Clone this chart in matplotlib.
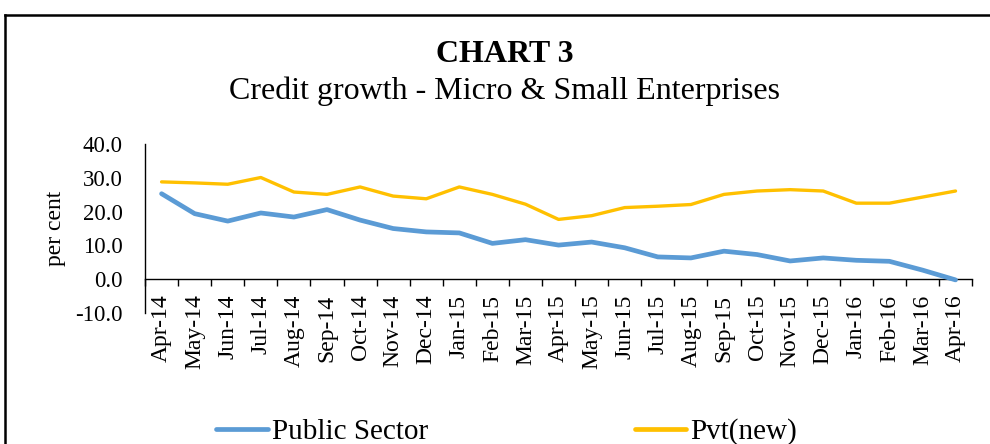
import numpy as np
import matplotlib
matplotlib.use("Agg")
import matplotlib.pyplot as plt
from matplotlib.lines import Line2D

plt.rcParams['font.family'] = ['Liberation Serif', 'DejaVu Serif']

months = ['Apr-14', 'May-14', 'Jun-14', 'Jul-14', 'Aug-14', 'Sep-14', 'Oct-14', 'Nov-14',
          'Dec-14', 'Jan-15', 'Feb-15', 'Mar-15', 'Apr-15', 'May-15', 'Jun-15', 'Jul-15',
          'Aug-15', 'Sep-15', 'Oct-15', 'Nov-15', 'Dec-15', 'Jan-16', 'Feb-16', 'Mar-16', 'Apr-16']
public_sector = [25.3, 19.4, 17.2, 19.6, 18.4, 20.6, 17.5, 15.0, 14.0, 13.7, 10.6, 11.7, 10.1,
                 11.0, 9.3, 6.6, 6.3, 8.3, 7.3, 5.4, 6.3, 5.6, 5.3, 2.7, -0.2]
pvt_new = [28.8, 28.5, 28.1, 30.1, 25.8, 25.1, 27.3, 24.6, 23.8, 27.3, 25.1, 22.2, 17.7,
           18.8, 21.2, 21.6, 22.1, 25.1, 26.1, 26.5, 26.1, 22.5, 22.5, 24.3, 26.1]
y_ticks = [-10, 0, 10, 20, 30, 40]

fig = plt.figure(figsize=(9.9, 4.44), dpi=100)
ax = fig.add_axes([0.1465, 0.295, 0.8354, 0.3806])

# spine position first, it resets the ticks
ax.spines['top'].set_visible(False)
ax.spines['right'].set_visible(False)
ax.spines['bottom'].set_position(('data', 0))
ax.spines['left'].set_linewidth(1)
ax.spines['bottom'].set_linewidth(1)

x = np.arange(len(months))
ax.plot(x, public_sector, color='#5B9BD5', lw=3.4, solid_capstyle='round',
        solid_joinstyle='round', label='Public Sector', zorder=3)
ax.plot(x, pvt_new, color='#FFC000', lw=2.4, solid_capstyle='round',
        solid_joinstyle='round', label='Pvt(new)', zorder=3)

ax.set_xlim(-0.5, len(months) - 0.5)
ax.set_ylim(-10, 40)
ax.set_yticks(y_ticks)
ax.set_yticklabels([f"{v:.1f}" for v in y_ticks])
ax.tick_params(axis='y', length=0, pad=16, labelsize=16.5)

ax.set_xticks(x)
ax.set_xticklabels(months)
ax.set_xticks(np.arange(-0.5, len(months)), minor=True)
ax.tick_params(axis='x', which='major', length=0, pad=11, labelsize=17, labelrotation=90)
ax.tick_params(axis='x', which='minor', length=5, width=1, direction='out')

fig.text(56 / 990, 1 - 228 / 444, 'per cent', rotation=90, fontsize=17,
         ha='center', va='center')

fig.text(0.510, 0.860, 'CHART 3', fontsize=23, fontweight='bold', ha='center', va='baseline')
fig.text(0.510, 0.777, 'Credit growth - Micro & Small Enterprises', fontsize=23,
         ha='center', va='baseline')

leg = fig.legend(loc='center', bbox_to_anchor=(0.512, 0.027), ncol=2, frameon=False,
                 fontsize=21, handlelength=1.75, handletextpad=0.15, columnspacing=7.1)
for h in leg.get_lines():
    h.set_linewidth(3.4)

# outer frame (cropped at right and bottom)
fig.add_artist(Line2D([5 / 990, 1], [1 - 15 / 444, 1 - 15 / 444], color='black', lw=1.8))
fig.add_artist(Line2D([5 / 990, 5 / 990], [0, 1 - 15 / 444], color='black', lw=1.8))

fig.savefig('out.png', dpi=100)
